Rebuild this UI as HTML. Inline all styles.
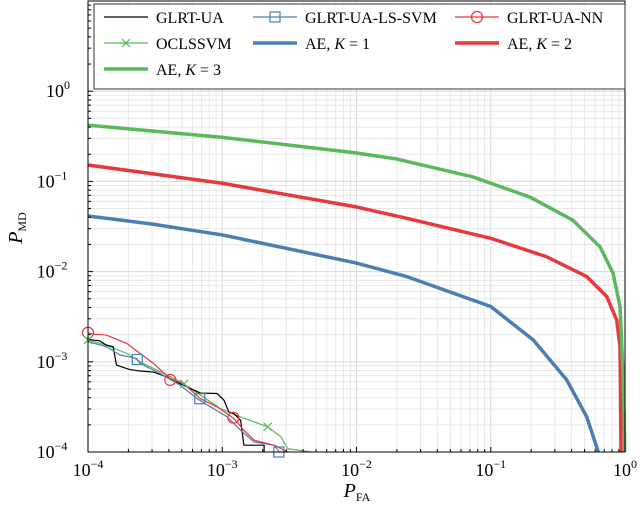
<!DOCTYPE html>
<html><head><meta charset="utf-8"><style>
html,body{margin:0;padding:0;background:#fff;}
svg{display:block;font-family:"Liberation Serif",serif;}
</style></head><body>
<svg id="chart" width="640" height="512" viewBox="0 0 640 512" xmlns="http://www.w3.org/2000/svg">
<g id="grid"></g>
<g id="series"></g>
<rect x="88" y="1" width="537" height="451" fill="none" stroke="#000" stroke-width="1"/>
<g id="ticks"></g>
<text x="357" y="497" font-size="20" font-style="italic" text-anchor="middle">P<tspan font-size="12" font-style="normal" dy="4">FA</tspan></text>
<text transform="translate(22,228) rotate(-90)" font-size="20" font-style="italic" text-anchor="middle">P<tspan font-size="12" font-style="normal" dy="4">MD</tspan></text>
<g id="legend">
<rect x="94" y="4" width="531" height="85" fill="#fff" stroke="#333" stroke-width="1"/>
</g>
</svg>
<script>
const xTickExps=[-4,-3,-2,-1,0];
const yTickExps=[-4,-3,-2,-1,0];
const aeK3X=[1e-4,1e-3,9.7e-3,0.02,0.0738,0.196,0.41,0.652,0.815,0.918,0.962,0.985,0.995];
const aeK3Y=[0.42,0.308,0.208,0.177,0.112,0.067,0.037,0.0188,0.0096,0.0041,8.7e-4,2.5e-4,1e-4];
const aeK2X=[1e-4,1e-3,9.7e-3,0.0237,0.1,0.261,0.519,0.731,0.867,0.918,0.924,0.935];
const aeK2Y=[0.152,0.0953,0.0525,0.039,0.0234,0.0146,0.0088,0.0053,0.0029,0.00148,6.8e-4,1e-4];
const aeK1X=[1e-4,2.98e-4,1e-3,9.7e-3,0.0237,0.1,0.207,0.368,0.519,0.633];
const aeK1Y=[0.0413,0.0337,0.0255,0.01256,0.0088,0.0041,0.00175,6.3e-4,2.45e-4,1e-4];
const nnX=[1e-4,1.09e-4,1.37e-4,1.94e-4,2.44e-4,3.07e-4,4.1e-4,5.16e-4,6.88e-4,9.17e-4,1.22e-3,1.45e-3,1.73e-3,2.44e-3,3.07e-3];
const nnY=[2.1e-3,2.03e-3,1.98e-3,1.6e-3,1.24e-3,9.6e-4,6.5e-4,5.7e-4,3.9e-4,3.16e-4,2.35e-4,1.74e-4,1.35e-4,1.19e-4,1e-4];
const glrtX=[1e-4,1.22e-4,1.37e-4,1.54e-4,1.63e-4,2.05e-4,2.44e-4,3.07e-4,3.87e-4,4.87e-4,6.88e-4,9.17e-4,1.03e-3,1.12e-3,1.22e-3,1.37e-3,1.45e-3,2.05e-3,2.05e-3];
const glrtY=[1.77e-3,1.71e-3,1.53e-3,1.47e-3,9.2e-4,8.2e-4,7.9e-4,7.7e-4,6.8e-4,5.7e-4,4.5e-4,4.45e-4,3.75e-4,2.78e-4,2.67e-4,2.25e-4,1.19e-4,1.19e-4,1e-4];
const svmX=[1e-4,1.37e-4,1.73e-4,2.3e-4,2.44e-4,3.45e-4,4.87e-4,6.5e-4,8.2e-4,1.09e-3,1.37e-3,1.73e-3,2.44e-3,2.66e-3,2.9e-3];
const svmY=[1.67e-3,1.47e-3,1.19e-3,1.09e-3,9.6e-4,7.4e-4,5.5e-4,3.9e-4,3.16e-4,2.45e-4,1.74e-4,1.29e-4,1.19e-4,1e-4,1e-4];
const ocX=[1e-4,1.37e-4,1.94e-4,2.44e-4,3.26e-4,4.87e-4,6.88e-4,9.7e-4,1.37e-3,2.18e-3,2.74e-3,3.07e-3,4.6e-3];
const ocY=[1.74e-3,1.53e-3,1.24e-3,1.0e-3,8.1e-4,6.0e-4,4.27e-4,3.03e-4,2.45e-4,1.9e-4,1.47e-4,1.09e-4,1e-4];
const svmMarkX=[2.33e-4,6.8e-4,2.64e-3];
const svmMarkY=[1.06e-3,3.9e-4,1e-4];
const nnMarkX=[1e-4,4.1e-4,1.21e-3];
const nnMarkY=[2.1e-3,6.3e-4,2.4e-4];
const ocMarkX=[1e-4,5.2e-4,2.18e-3];
const ocMarkY=[1.74e-3,5.7e-4,1.9e-4];

const NS="http://www.w3.org/2000/svg";
const X0=88,X1=625,Y0=452,Y1=1;
const xs=v=>X0+(Math.log10(v)+4)/4*(X1-X0);
const ys=v=>Y0-(Math.log10(v)+4)/5*(Y0-Y1);
function mk(tag,attrs,parent){const e=document.createElementNS(NS,tag);for(const k in attrs)e.setAttribute(k,attrs[k]);parent.appendChild(e);return e;}
const grid=document.getElementById('grid'),ticks=document.getElementById('ticks'),ser=document.getElementById('series'),leg=document.getElementById('legend');
for(let e=-4;e<0;e++)for(let m=1;m<10;m++){const v=m*Math.pow(10,e);const x=xs(v);
 const l=mk('line',{x1:x,x2:x,y1:Y1,y2:Y0,stroke:m==1?'#d8d8d8':'#e8e8e8','stroke-width':1},grid);
 
 const t=mk('line',{x1:x,x2:x,y1:Y0,y2:Y0-(m==1?5:3),stroke:'#000'},ticks);}
for(let e=-4;e<1;e++)for(let m=1;m<10;m++){const v=m*Math.pow(10,e);const y=ys(v);if(y<Y1)continue;
 const l=mk('line',{x1:X0,x2:X1,y1:y,y2:y,stroke:m==1?'#d8d8d8':'#e8e8e8','stroke-width':1},grid);
 
 const t=mk('line',{x1:X0,x2:X0+(m==1?5:3),y1:y,y2:y,stroke:'#000'},ticks);}
xTickExps.forEach(e=>{const t=mk('text',{x:xs(Math.pow(10,e)),y:476,'font-size':18,'text-anchor':'middle'},ticks);
 
 t.innerHTML='10<tspan font-size="12" dy="-8">'+(e<0?'\u2212'+(-e):e)+'</tspan>';});
yTickExps.forEach(e=>{const t=mk('text',{x:e<0?52:58,y:ys(Math.pow(10,e))+6,'font-size':18,'text-anchor':'middle'},ticks);
 
 t.innerHTML='10<tspan font-size="12" dy="-8">'+(e<0?'\u2212'+(-e):e)+'</tspan>';});
function line(X,Y,col,w,name){const p=mk('polyline',{points:X.map((v,i)=>xs(v)+','+ys(Y[i])).join(' '),fill:'none',stroke:col,'stroke-width':w,'stroke-linejoin':'round'},ser);
 }
const BL='#4a7fb0',RD='#e8383d',GR='#5cb85c';
line(aeK2X,aeK2Y,RD,3.5,'ae-k2-line');
line(aeK3X,aeK3Y,GR,3.5,'ae-k3-line');
line(aeK1X,aeK1Y,BL,3.5,'ae-k1-line');
line(ocX,ocY,GR,1.2,'oclssvm-line');
line(glrtX,glrtY,'#000',1.2,'glrt-ua-line');
line(svmX,svmY,BL,1.2,'glrt-ua-ls-svm-line');
line(nnX,nnY,RD,1.2,'glrt-ua-nn-line');
function sq(x,y,p,col){const r=mk('rect',{x:x-5,y:y-5,width:10,height:10,fill:'none',stroke:col,'stroke-width':1.2},p);}
function ci(x,y,p,col){const r=mk('circle',{cx:x,cy:y,r:5.5,fill:'none',stroke:col,'stroke-width':1.2},p);}
function cr(x,y,p,col){const r=mk('path',{d:`M${x-4},${y-4}L${x+4},${y+4}M${x-4},${y+4}L${x+4},${y-4}`,stroke:col,'stroke-width':1.2},p);}
svmMarkX.forEach((v,i)=>sq(xs(v),ys(svmMarkY[i]),ser,BL));
nnMarkX.forEach((v,i)=>ci(xs(v),ys(nnMarkY[i]),ser,RD));
ocMarkX.forEach((v,i)=>cr(xs(v),ys(ocMarkY[i]),ser,GR));
const entries=[['GLRT-UA','#000',1.2,null,104,17],['GLRT-UA-LS-SVM',BL,1.2,'sq',253,17],['GLRT-UA-NN',RD,1.2,'ci',455,17],
['OCLSSVM',GR,1.2,'cr',104,43],['AE, <tspan font-style="italic">K</tspan> = 1',BL,3.5,null,253,43],['AE, <tspan font-style="italic">K</tspan> = 2',RD,3.5,null,455,43],
['AE, <tspan font-style="italic">K</tspan> = 3',GR,3.5,null,104,69]];
entries.forEach(([lab,col,w,mkr,x,y])=>{
 const g=mk('g',{},leg);
 mk('line',{x1:x,x2:x+44,y1:y,y2:y,stroke:col,'stroke-width':w},g);
 if(mkr=='sq')sq(x+22,y,g,col);if(mkr=='ci')ci(x+22,y,g,col);if(mkr=='cr')cr(x+22,y,g,col);
 const t=mk('text',{x:x+52,y:y+6,'font-size':16},g);t.innerHTML=lab;});
</script>
</body></html>
